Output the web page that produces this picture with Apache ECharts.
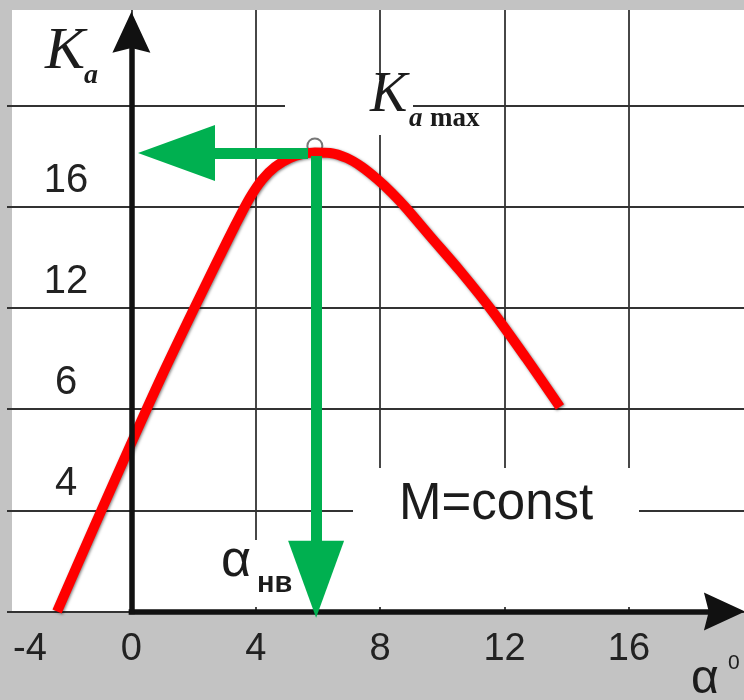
<!DOCTYPE html>
<html><head><meta charset="utf-8">
<script src="https://cdn.jsdelivr.net/npm/echarts@6/dist/echarts.min.js"></script>
<style>html,body{margin:0;padding:0;background:#c3c3c3}#c{width:744px;height:700px}</style>
</head><body><div id="c"></div>
<script>
// ---- data ----
const curveX = [-2.39, -1.20, 0, 0.98, 1.98, 2.69, 3.33, 3.81, 4.20, 4.62, 5.10, 5.52, 5.90,
                6.39, 6.93, 7.41, 7.90, 8.38, 8.83, 9.60, 10.57, 11.60, 12.69, 13.78];
const curveY = [0, 3.34, 6.66, 9.31, 11.88, 13.66, 15.24, 16.35, 17.06, 17.57, 17.92, 18.08, 18.14,
                18.12, 17.92, 17.57, 17.09, 16.54, 15.95, 14.84, 13.46, 11.88, 10.02, 8.08];
const xTickValues = [-4, 0, 4, 8, 12, 16];
const xTickLabels = ['-4', '0', '4', '8', '12', '16'];
const yTickValues = [4, 8, 12, 16];
const yTickLabels = ['4', '6', '12', '16'];
const peakMarker = [5.9, 18.4];
const kmaxArrowFrom = [5.68, 18.12];
const kmaxArrowTo = [1.45, 18.12];
const alphaArrowFrom = [5.94, 18.0];
const alphaArrowTo = [5.94, 1.27];
const xAxisArrowEnd = 19.07;
const yAxisArrowEnd = 22.89;
const xRange = [-4, 19.7];
const yRange = [0, 23.77];

const chart = echarts.init(document.getElementById('c'), null, {renderer: 'canvas'});
const arrowPath = 'path://M20,0 L40,42 L20,37 L0,42 Z';
const txt = '#1c1c1c';

function textEl(x, y, text, size, family, style, weight) {
  return {type: 'text', x: x, y: y, z: 10, silent: true,
    style: {text: text, fontSize: size, fontFamily: family, fontStyle: style || 'normal',
      fontWeight: weight || 'normal', fill: txt, align: 'left', verticalAlign: 'middle'}};
}
const serif = '"Liberation Serif", "Times New Roman", serif';
const sans = '"Liberation Sans", Arial, sans-serif';
const gridLine = {color: '#333', width: 1.8};

chart.setOption({
  animation: false,
  backgroundColor: '#c3c3c3',
  grid: {left: 7, right: 0, top: 10, bottom: 88.5, containLabel: false, outerBoundsMode: 'none'},
  xAxis: {
    type: 'value', min: xRange[0], max: xRange[1], interval: 4,
    axisLine: {show: false, onZero: false}, axisTick: {show: false},
    splitLine: {show: true, showMinLine: false, showMaxLine: false, lineStyle: gridLine},
    axisLabel: {
      showMaxLabel: false, margin: 38, verticalAlign: 'middle', align: 'center',
      fontSize: 38, fontFamily: sans, color: '#222',
      formatter: function (v) {
        const i = xTickValues.indexOf(v);
        if (i < 0) return '';
        return i === 0 ? '{m|' + xTickLabels[i] + '}' : xTickLabels[i];
      },
      rich: {m: {fontSize: 38, fontFamily: sans, color: '#222', padding: [0, 0, 0, 46]}}
    }
  },
  yAxis: {
    type: 'value', min: yRange[0], max: yRange[1], interval: 4,
    axisLine: {show: false, onZero: false}, axisTick: {show: false},
    splitLine: {show: true, showMinLine: true, showMaxLine: false, lineStyle: gridLine},
    axisLabel: {
      showMaxLabel: false, margin: -59, align: 'center', verticalAlign: 'middle',
      fontSize: 40, fontFamily: sans, color: '#222',
      formatter: function (v) {
        const i = yTickValues.indexOf(v);
        return i < 0 ? '' : '{v|' + yTickLabels[i] + '}';
      },
      rich: {v: {fontSize: 40, fontFamily: sans, color: '#222', padding: [0, 0, 52, 0]}}
    }
  },
  graphic: [
    {type: 'rect', z: -1, silent: true, shape: {x: 12, y: 10, width: 732, height: 601.5}, style: {fill: '#ffffff'}},
    {type: 'rect', z: 1, silent: true, shape: {x: 140, y: 540, width: 604, height: 67}, style: {fill: '#ffffff'}},
    {type: 'rect', z: 1, silent: true, shape: {x: 353, y: 468, width: 286, height: 77}, style: {fill: '#ffffff'}},
    {type: 'rect', z: 1, silent: true, shape: {x: 285, y: 80, width: 128, height: 55}, style: {fill: '#ffffff'}},
    textEl(45, 52, 'K', 60, serif, 'italic'),
    textEl(84, 76, 'a', 28, serif, 'italic', 'bold'),
    textEl(370, 96, 'K', 56, serif, 'italic'),
    textEl(409, 119, 'a', 27, serif, 'italic', 'bold'),
    textEl(430, 119, 'max', 27, serif, 'normal', 'bold'),
    textEl(399, 505, 'M=const', 51, sans),
    textEl(221, 562, 'α', 52, sans),
    textEl(257, 584, 'нв', 29, sans, 'normal', 'bold'),
    textEl(691, 680, 'α', 48, sans),
    textEl(728, 663, '0', 21, sans)
  ],
  series: [
    {
      name: 'axes', type: 'line', data: [], silent: true,
      markLine: {
        silent: true, animation: false, symbol: ['none', arrowPath], symbolSize: [38, 41],
        label: {show: false}, emphasis: {disabled: true},
        lineStyle: {color: '#111', width: 5.5, type: 'solid', cap: 'square'},
        data: [
          [{coord: [0, 0]}, {coord: [xAxisArrowEnd, 0]}],
          [{coord: [0, 0]}, {coord: [0, yAxisArrowEnd]}]
        ]
      }
    },
    {
      name: 'peak', type: 'scatter', data: [peakMarker], symbol: 'circle', symbolSize: 15, silent: true,
      itemStyle: {color: '#ffffff', borderColor: '#555', borderWidth: 2}
    },
    {
      name: 'Ka', type: 'line', data: curveX.map(function (x, i) { return [x, curveY[i]]; }),
      smooth: 0.3, showSymbol: false, symbol: 'none', silent: true,
      lineStyle: {color: '#ff0000', width: 10, cap: 'butt', shadowColor: 'rgba(0,0,0,0.5)', shadowBlur: 3, shadowOffsetX: 1, shadowOffsetY: 1}
    },
    {
      name: 'arrows', type: 'line', data: [], silent: true,
      markLine: {
        silent: true, animation: false, symbol: ['none', 'triangle'], symbolSize: [56, 77],
        label: {show: false}, emphasis: {disabled: true},
        lineStyle: {color: '#00b050', width: 11, type: 'solid'},
        data: [
          [{coord: kmaxArrowFrom}, {coord: kmaxArrowTo}],
          [{coord: alphaArrowFrom}, {coord: alphaArrowTo}]
        ]
      }
    }
  ]
});
</script>
</body></html>
